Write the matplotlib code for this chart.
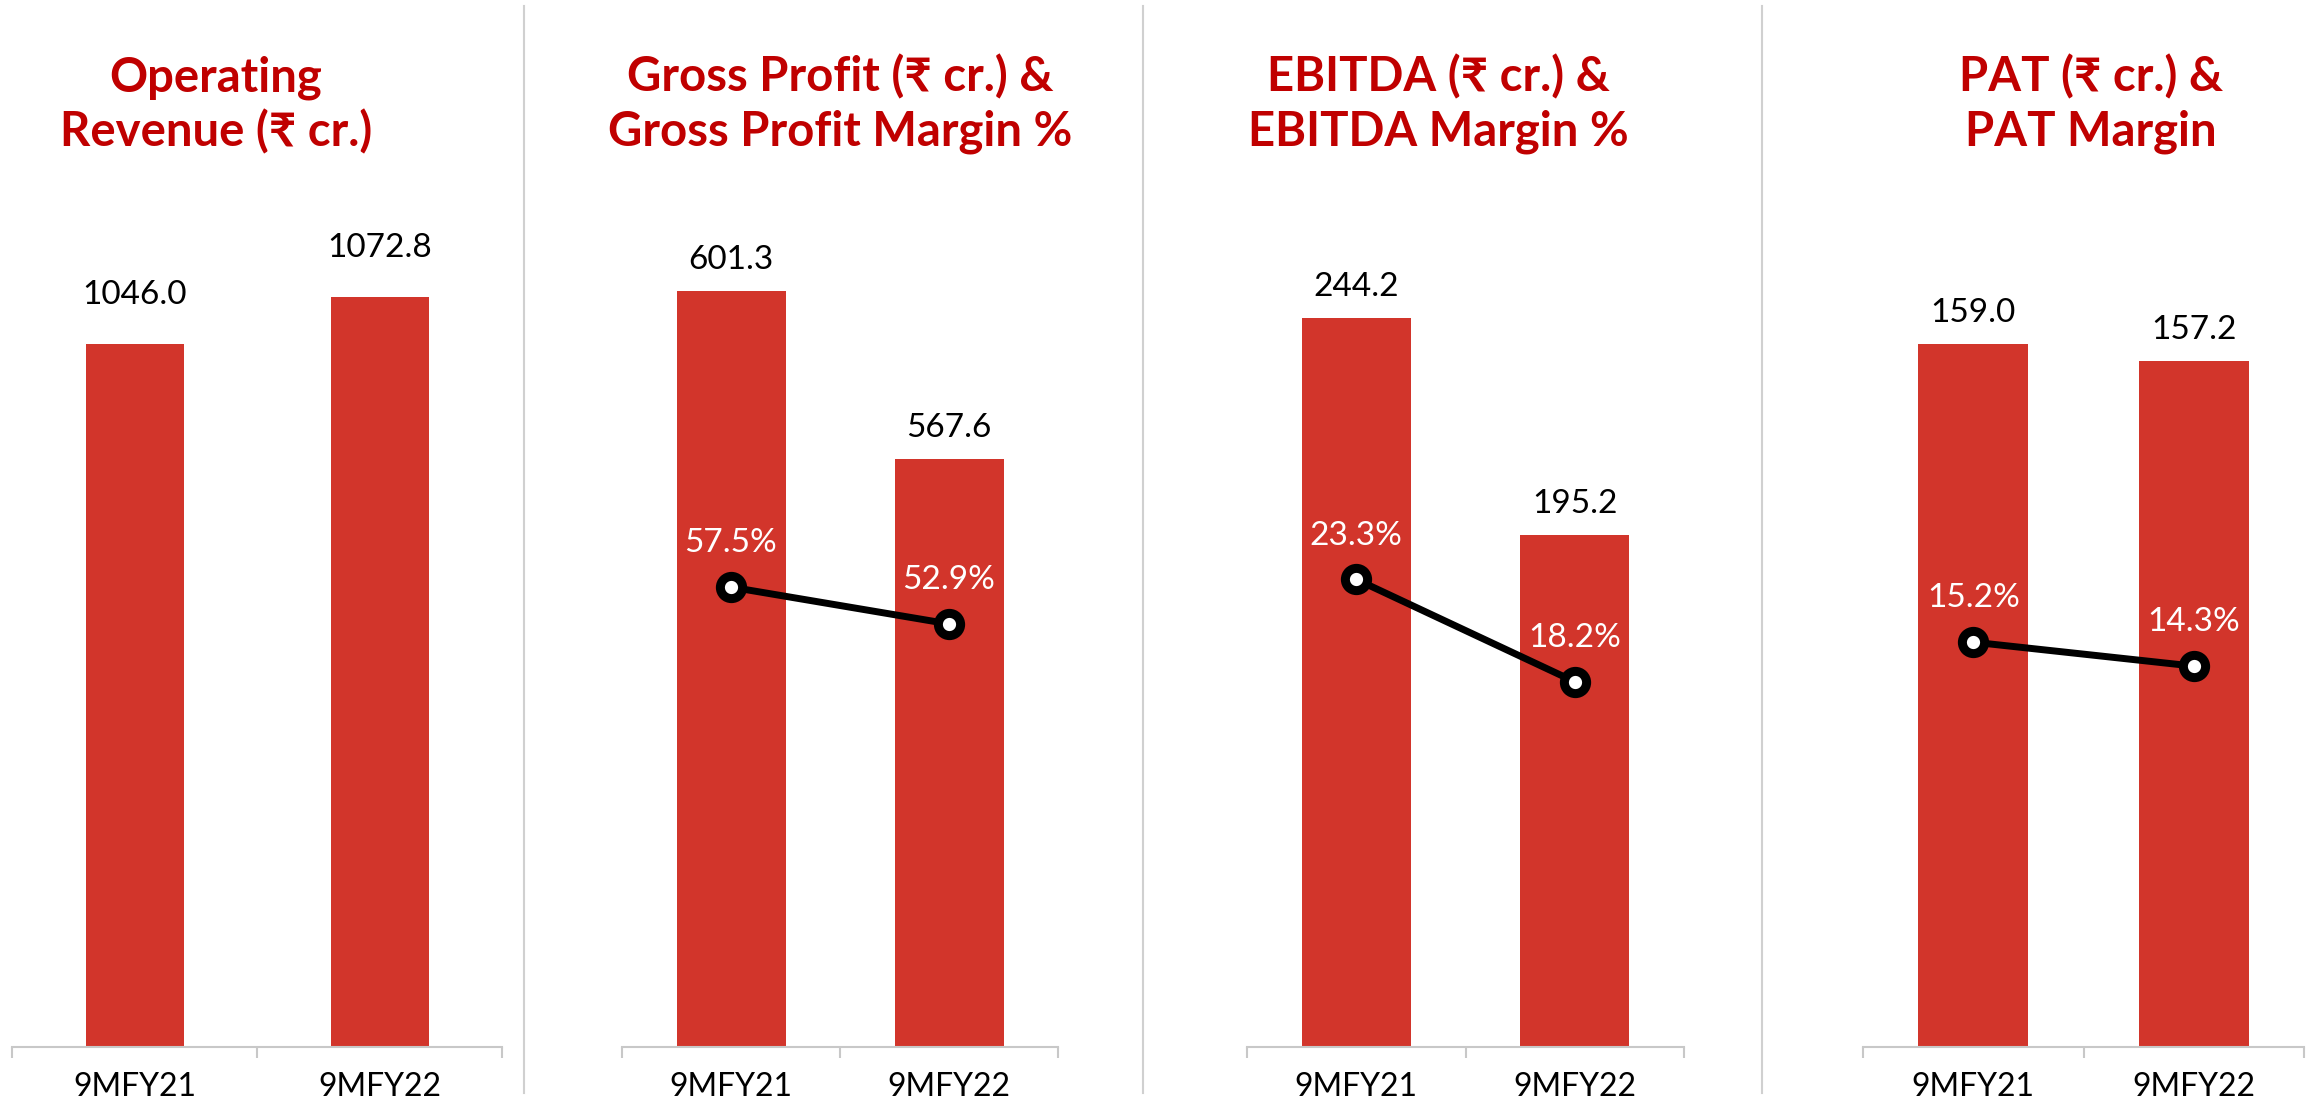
import matplotlib.pyplot as plt
from matplotlib.lines import Line2D

# data
categories = ['9MFY21', '9MFY22']
revenue = [1046.0, 1072.8]
gross_profit = [601.3, 567.6]
gp_margin = [57.5, 52.9]
ebitda = [244.2, 195.2]
ebitda_margin = [23.3, 18.2]
pat = [159.0, 157.2]
pat_margin = [15.2, 14.3]

titles = [
    ['Operating', 'Revenue (₹ cr.)'],
    ['Gross Profit (₹ cr.) &', 'Gross Profit Margin %'],
    ['EBITDA (₹ cr.) &', 'EBITDA Margin %'],
    ['PAT (₹ cr.) &', 'PAT Margin'],
]

BAR = '#D2352B'
TITLE = '#C00000'
GRID = '#C8C8C8'
FONT = ['Lato', 'Noto Sans', 'DejaVu Sans']
plt.rcParams['font.family'] = FONT

W, H = 2321, 1101
fig = plt.figure(figsize=(W / 100, H / 100), dpi=100)

# panel layout in pixels: (left, right) of each axis, title centre x
panels = [
    dict(x=(12, 502), tx=216, bars=revenue, line=None, ylim=(645, 1128), y2=None, bw=0.4, off=29),
    dict(x=(622, 1058), tx=840, bars=gross_profit, line=gp_margin, ylim=(449.6, 619.5), y2=105.9, bw=0.5, off=16),
    dict(x=(1247, 1684), tx=1438, bars=ebitda, line=ebitda_margin, ylim=(79.6, 270.8), y2=42.2, bw=0.5, off=16),
    dict(x=(1863, 2304), tx=2091, bars=pat, line=pat_margin, ylim=(84.6, 174.3), y2=31.8, bw=0.5, off=16),
]
bottom_px, top_px = 1047, 200

for i, p in enumerate(panels):
    x0, x1 = p['x']
    ax = fig.add_axes([x0 / W, (H - bottom_px) / H, (x1 - x0) / W, (bottom_px - top_px) / H])
    xs = range(len(categories))
    ax.bar(xs, p['bars'], width=p['bw'], color=BAR, zorder=2)
    ax.set_xlim(-0.5, 1.5)
    ax.set_ylim(*p['ylim'])
    for x, v in zip(xs, p['bars']):
        ax.annotate(f'{v:.1f}', (x, v), xytext=(0, p['off']), textcoords='offset points',
                    ha='center', va='baseline', fontsize=24, color='black')
    for s in ['top', 'left', 'right']:
        ax.spines[s].set_visible(False)
    ax.spines['bottom'].set_color(GRID)
    ax.spines['bottom'].set_linewidth(1.5)
    ax.set_yticks([])
    ax.set_xticks(list(xs))
    ax.set_xticklabels(categories, fontsize=23)
    ax.tick_params(axis='x', which='major', length=0, pad=18)
    ax.set_xticks([-0.5, 0.5, 1.5], minor=True)
    ax.tick_params(axis='x', which='minor', length=8, width=1.5, color=GRID)

    if p['line'] is not None:
        ax2 = ax.twinx()
        ax2.set_ylim(0, p['y2'])
        ax2.plot(xs, p['line'], color='black', lw=5, marker='o', ms=16,
                 mfc='white', mec='black', mew=6.5, zorder=3)
        for x, v in zip(xs, p['line']):
            ax2.annotate(f'{v:.1f}%', (x, v), xytext=(0, 25), textcoords='offset points',
                         ha='center', va='baseline', fontsize=24, color='white')
        ax2.axis('off')

    fig.text(p['tx'] / W, 1 - 91 / H, titles[i][0], ha='center', va='baseline',
             fontsize=34, fontweight='bold', color=TITLE)
    fig.text(p['tx'] / W, 1 - 146 / H, titles[i][1], ha='center', va='baseline',
             fontsize=34, fontweight='bold', color=TITLE)

# vertical separators between panels
for sx in [524, 1143, 1762]:
    fig.add_artist(Line2D([sx / W, sx / W], [8 / H, 1 - 6 / H], color='#D0D0D0', lw=1.5))

fig.savefig('out.png', dpi=100)
